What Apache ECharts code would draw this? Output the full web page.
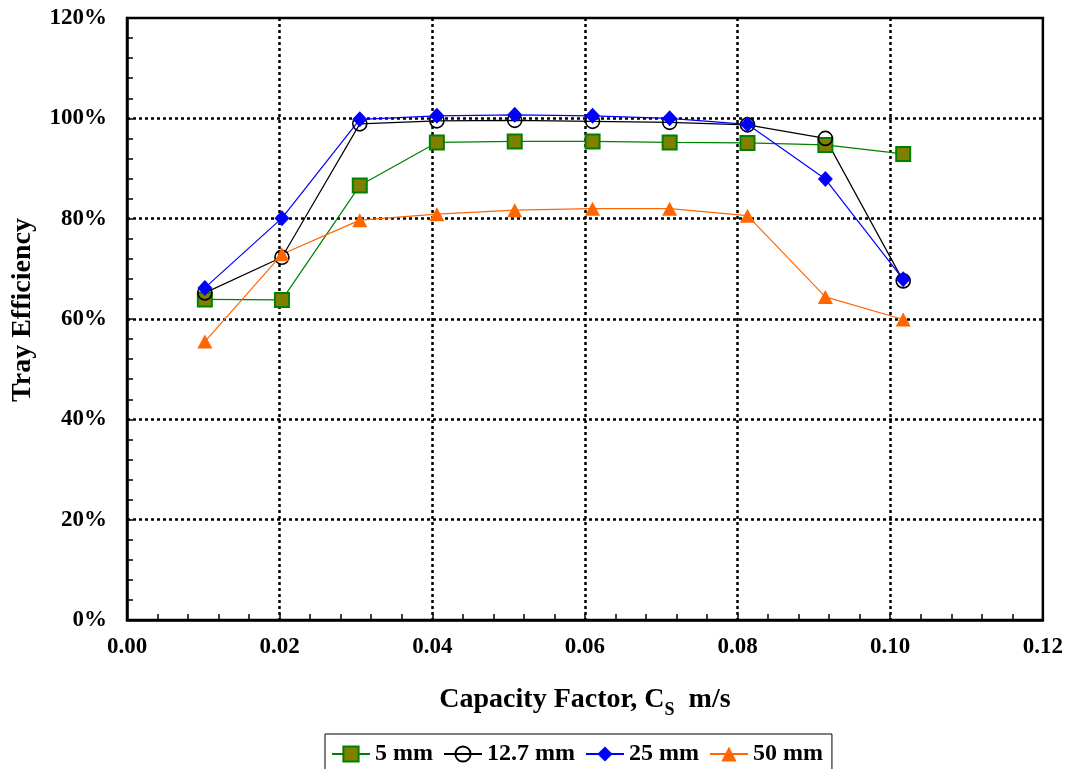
<!DOCTYPE html>
<html>
<head>
<meta charset="utf-8">
<title>Tray Efficiency vs Capacity Factor</title>
<script src="https://cdn.jsdelivr.net/npm/echarts@6/dist/echarts.min.js"></script>
<style>
  html, body { margin: 0; padding: 0; background: #fff; }
  #chart { width: 1066px; height: 769px; }
</style>
</head>
<body>
<div id="chart"></div>
<script>
// Capacity factor C_S (m/s) at each measured point
const capacityFactor = [0.0102, 0.0203, 0.0305, 0.0406, 0.0508, 0.0610, 0.0711, 0.0813, 0.0915, 0.1017];

// Tray efficiency (%) for each hole diameter
const eff5mm   = [63.9, 63.8, 86.6, 95.2, 95.4, 95.4, 95.2, 95.1, 94.7, 92.9];
const eff12mm  = [65.2, 72.3, 98.9, 99.5, 99.6, 99.4, 99.2, 98.7, 96.0, 67.6];
const eff25mm  = [66.2, 80.1, 99.8, 100.5, 100.7, 100.5, 100.0, 98.8, 87.9, 67.9];
const eff50mm  = [55.5, 72.9, 79.7, 80.9, 81.7, 82.0, 82.0, 80.6, 64.4, 59.9];

const seriesNames = ['5 mm', '12.7 mm', '25 mm', '50 mm'];

const FONT = '"Liberation Serif", "Times New Roman", serif';

function pairs(ys) {
  return capacityFactor.map((x, i) => [x, ys[i]]);
}

const chart = echarts.init(document.getElementById('chart'), null, { renderer: 'canvas' });

const dotted = { color: '#000', width: 2.5, type: [3, 3] };

const option = {
  backgroundColor: '#fff',
  animation: false,
  grid: {
    left: 127, top: 18, right: 23, bottom: 149,
    show: true, borderColor: '#000', borderWidth: 2.5, backgroundColor: 'transparent'
  },
  legend: {
    data: seriesNames,
    left: 325, top: 734,
    padding: [8, 9, 12, 6],
    itemGap: 10,
    itemWidth: 38,
    itemHeight: 19,
    borderColor: '#000',
    borderWidth: 1,
    textStyle: { fontFamily: FONT, fontWeight: 'bold', fontSize: 24, color: '#000' }
  },
  xAxis: {
    type: 'value',
    min: 0, max: 0.12, interval: 0.02,
    name: '{a|Capacity Factor, C}{s|S}{a|  m/s}',
    nameLocation: 'middle',
    nameGap: 61,
    nameTextStyle: {
      rich: {
        a: { fontFamily: FONT, fontWeight: 'bold', fontSize: 28, color: '#000', lineHeight: 38, verticalAlign: 'middle' },
        s: { fontFamily: FONT, fontWeight: 'bold', fontSize: 18, color: '#000', lineHeight: 38, verticalAlign: 'bottom' }
      }
    },
    axisLine: { show: true, onZero: false, lineStyle: { color: '#000', width: 2.5 } },
    axisTick: { show: true, inside: true, length: 6, lineStyle: { color: '#000', width: 1.5 } },
    minorTick: { show: true, splitNumber: 5, length: 6, lineStyle: { color: '#000', width: 1.5 } },
    axisLabel: {
      margin: 16,
      fontFamily: FONT, fontWeight: 'bold', fontSize: 23, color: '#000',
      formatter: v => v.toFixed(2)
    },
    splitLine: { show: true, showMinLine: false, showMaxLine: false, lineStyle: dotted }
  },
  yAxis: {
    type: 'value',
    min: 0, max: 120, interval: 20,
    name: 'Tray Efficiency',
    nameLocation: 'middle',
    nameGap: 90,
    nameTextStyle: { fontFamily: FONT, fontWeight: 'bold', fontSize: 28, color: '#000', padding: [0, 0, 0, 18] },
    axisLine: { show: true, onZero: false, lineStyle: { color: '#000', width: 2.5 } },
    axisTick: { show: true, inside: true, length: 6, lineStyle: { color: '#000', width: 1.5 } },
    minorTick: { show: true, splitNumber: 5, length: 6, lineStyle: { color: '#000', width: 1.5 } },
    axisLabel: {
      margin: 20,
      fontFamily: FONT, fontWeight: 'bold', fontSize: 23, color: '#000',
      formatter: v => v + '%'
    },
    splitLine: { show: true, showMinLine: false, showMaxLine: false, lineStyle: dotted }
  },
  series: [
    {
      name: seriesNames[0], type: 'line', data: pairs(eff5mm),
      symbol: 'rect', symbolSize: 14,
      lineStyle: { color: '#008000', width: 1.2 },
      itemStyle: { color: '#808000', borderColor: '#008000', borderWidth: 2 }
    },
    {
      name: seriesNames[1], type: 'line', data: pairs(eff12mm),
      symbol: 'circle', symbolSize: 14,
      lineStyle: { color: '#000', width: 1.2 },
      itemStyle: { color: 'rgba(255,255,255,0)', borderColor: '#000', borderWidth: 1.6 }
    },
    {
      name: seriesNames[2], type: 'line', data: pairs(eff25mm),
      symbol: 'diamond', symbolSize: [15, 16],
      lineStyle: { color: '#0000ff', width: 1.2 },
      itemStyle: { color: '#0000ff' }
    },
    {
      name: seriesNames[3], type: 'line', data: pairs(eff50mm),
      symbol: 'triangle', symbolSize: [15, 14],
      lineStyle: { color: '#ff6600', width: 1.2 },
      itemStyle: { color: '#ff6600' }
    }
  ]
};

chart.setOption(option);
</script>
</body>
</html>
